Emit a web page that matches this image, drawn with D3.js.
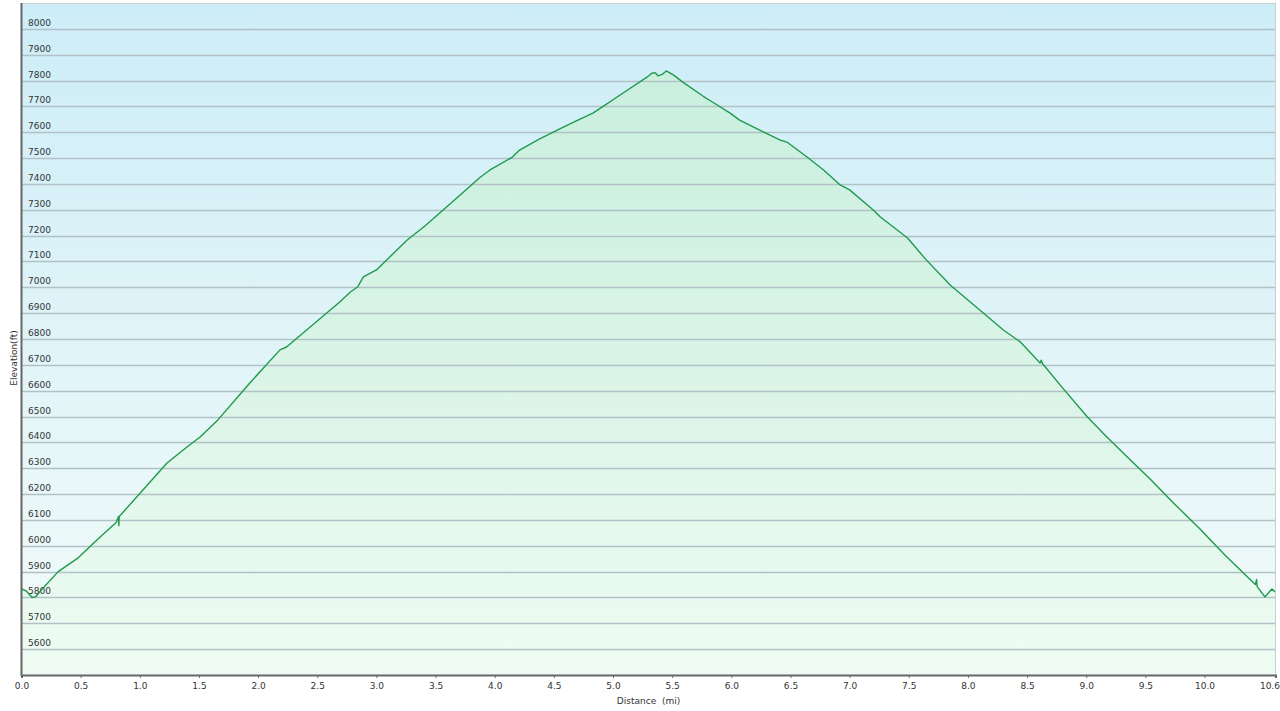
<!DOCTYPE html>
<html><head><meta charset="utf-8">
<script src="https://cdn.jsdelivr.net/npm/d3@7"></script>
<style>html,body{margin:0;padding:0;background:#fff;}svg{display:block;}</style>
</head><body>
<svg id="chart" width="1280" height="711"></svg>
<script>
const distance = [0.00,0.04,0.09,0.12,0.16,0.31,0.47,0.66,0.80,0.82,0.823,0.826,1.23,1.42,1.51,1.66,1.93,2.185,2.24,2.33,2.69,2.78,2.84,2.89,3.00,3.26,3.41,3.66,3.88,3.96,4.15,4.21,4.38,4.58,4.69,4.83,4.91,5.06,5.29,5.33,5.36,5.38,5.42,5.45,5.51,5.59,5.76,5.84,5.99,6.07,6.27,6.41,6.47,6.64,6.78,6.92,7.00,7.20,7.26,7.49,7.64,7.85,8.10,8.30,8.42,8.44,8.61,8.62,8.63,8.80,9.01,9.16,9.33,9.54,9.75,9.96,10.17,10.39,10.43,10.44,10.445,10.51,10.57,10.60];
const elevation = [5833,5825,5800,5803,5825,5900,5950,6032,6090,6113,6078,6113,6320,6390,6421,6487,6630,6758,6769,6804,6943,6982,7001,7040,7067,7183,7237,7338,7427,7454,7504,7531,7574,7620,7644,7674,7698,7744,7814,7829,7829,7818,7825,7837,7822,7794,7740,7717,7674,7647,7601,7570,7562,7504,7454,7396,7377,7299,7272,7191,7110,7009,6912,6835,6796,6790,6707,6718,6705,6611,6498,6428,6351,6258,6160,6066,5965,5868,5850,5870,5842,5802,5833,5820];
const yTicks = [5600,5700,5800,5900,6000,6100,6200,6300,6400,6500,6600,6700,6800,6900,7000,7100,7200,7300,7400,7500,7600,7700,7800,7900,8000];
const xTicks = [0.0,0.5,1.0,1.5,2.0,2.5,3.0,3.5,4.0,4.5,5.0,5.5,6.0,6.5,7.0,7.5,8.0,8.5,9.0,9.5,10.0,10.6];
const xTitle = "Distance  (mi)";
const yTitle = "Elevation(ft)";

const L = 21.5, R = 1275.5, T = 3, B = 675;
const svg = d3.select("#chart");
const x = d3.scaleLinear().domain([0, 10.6]).range([L, R]);
const y = d3.scaleLinear().domain([5500, 8100]).range([B, T]);
const font = "'DejaVu Sans', Verdana, sans-serif";

const defs = svg.append("defs");
const bg = defs.append("linearGradient").attr("id","bg").attr("x1",0).attr("y1",0).attr("x2",0).attr("y2",1);
bg.append("stop").attr("offset","0%").attr("stop-color","#cdedf8");
bg.append("stop").attr("offset","55%").attr("stop-color","#e2f5f8");
bg.append("stop").attr("offset","100%").attr("stop-color","#f4fbf9");
const ag = defs.append("linearGradient").attr("id","ag").attr("gradientUnits","userSpaceOnUse")
  .attr("x1",0).attr("y1",T).attr("x2",0).attr("y2",B);
ag.append("stop").attr("offset","0%").attr("stop-color","#c6eedd");
ag.append("stop").attr("offset","60%").attr("stop-color","#dcf5e8");
ag.append("stop").attr("offset","100%").attr("stop-color","#effcf3");

svg.append("rect").attr("x",L).attr("y",T).attr("width",R-L).attr("height",B-T).attr("fill","url(#bg)");

const data = distance.map((d,i)=>({d, e: elevation[i]}));
svg.append("path").datum(data)
  .attr("d", d3.area().x(p=>x(p.d)).y0(B).y1(p=>y(p.e)))
  .attr("fill","url(#ag)");

// gridlines
svg.append("g").selectAll("line").data(yTicks).join("line")
  .attr("x1",L).attr("x2",R).attr("y1",d=>Math.round(y(d))+0.5).attr("y2",d=>Math.round(y(d))+0.5)
  .attr("stroke","#b2c1c5").attr("stroke-width",1.3);

svg.append("g").selectAll("text").data(yTicks).join("text")
  .attr("x",28).attr("y",d=>Math.round(y(d))-3)
  .attr("font-family",font).attr("font-size","9px").attr("fill","#333")
  .text(d=>d);

svg.append("path").datum(data)
  .attr("d", d3.line().x(p=>x(p.d)).y(p=>y(p.e)))
  .attr("fill","none").attr("stroke","#1f9a4c").attr("stroke-width",1.4).attr("stroke-linejoin","round");

// border
svg.append("path").attr("d",`M${L},${T+0.5}H${R}V${B}`).attr("fill","none").attr("stroke","#c8d0d3").attr("stroke-width",1);

// axes
const xAxis = svg.append("g").attr("transform",`translate(0,${B})`)
  .call(d3.axisBottom(x).tickValues(xTicks).tickFormat(d3.format(".1f")).tickSize(3).tickPadding(5));
xAxis.select(".domain").attr("stroke","#666").attr("stroke-width",2);
xAxis.selectAll(".tick line").attr("stroke","#666");
xAxis.selectAll("text").attr("font-family",font).attr("font-size","9px").attr("fill","#333");
xAxis.selectAll(".tick").filter(d=>d===10.6).select("text").attr("text-anchor","end").attr("dx","4");

svg.append("line").attr("x1",L).attr("x2",L).attr("y1",T).attr("y2",B+1).attr("stroke","#666").attr("stroke-width",2);

svg.append("text").attr("x",(L+R)/2).attr("y",704).attr("text-anchor","middle")
  .attr("font-family",font).attr("font-size","9px").attr("fill","#333").attr("xml:space","preserve").style("white-space","pre").text(xTitle);
svg.append("text").attr("transform","translate(17,358) rotate(-90)").attr("text-anchor","middle")
  .attr("font-family",font).attr("font-size","9px").attr("fill","#333").text(yTitle);
</script>
</body></html>
